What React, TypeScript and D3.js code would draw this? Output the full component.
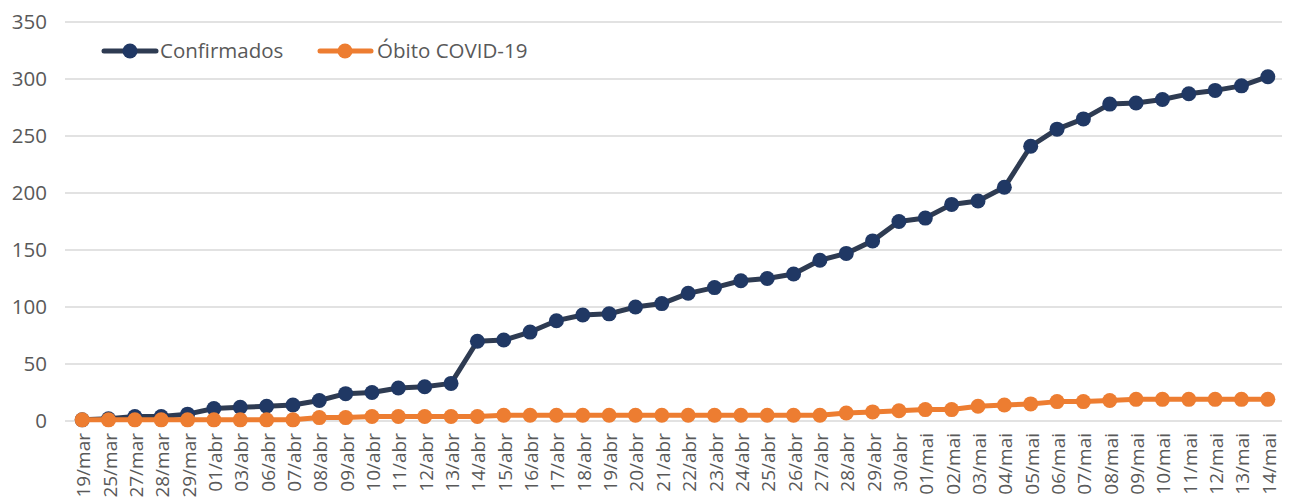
import React from "react";
import * as d3 from "d3";

const categories = [
  "19/mar","25/mar","27/mar","28/mar","29/mar",
  "01/abr","03/abr","06/abr","07/abr","08/abr","09/abr","10/abr","11/abr","12/abr","13/abr",
  "14/abr","15/abr","16/abr","17/abr","18/abr","19/abr","20/abr","21/abr","22/abr","23/abr",
  "24/abr","25/abr","26/abr","27/abr","28/abr","29/abr","30/abr",
  "01/mai","02/mai","03/mai","04/mai","05/mai","06/mai","07/mai","08/mai","09/mai","10/mai",
  "11/mai","12/mai","13/mai","14/mai"
];

const confirmados = [
  1, 2, 4, 4, 6,
  11, 12, 13, 14, 18, 24, 25, 29, 30, 33,
  70, 71, 78, 88, 93, 94, 100, 103, 112, 117,
  123, 125, 129, 141, 147, 158, 175,
  178, 190, 193, 205, 241, 256, 265, 278, 279, 282,
  287, 290, 294, 302
];

const obitos = [
  1, 1, 1, 1, 1,
  1, 1, 1, 1, 3, 3, 4, 4, 4, 4,
  4, 5, 5, 5, 5, 5, 5, 5, 5, 5,
  5, 5, 5, 5, 7, 8, 9,
  10, 10, 13, 14, 15, 17, 17, 18, 19, 19,
  19, 19, 19, 19
];

const yTicks = [0, 50, 100, 150, 200, 250, 300, 350];

const W = 1294;
const H = 497;
const FONT = "'Open Sans', sans-serif";

export default function App() {
  const x = d3.scaleBand<string>().domain(categories).range([69, 1281]);
  const y = d3.scaleLinear().domain([0, 350]).range([421, 22]);
  const cx = (c: string) => (x(c) as number) + x.bandwidth() / 2;
  const line = d3
    .line<number>()
    .x((_, i) => cx(categories[i]))
    .y((v) => y(v));

  const series = [
    { name: "Confirmados", values: confirmados, line: "#2E3B52", marker: "#203864" },
    { name: "Óbito COVID-19", values: obitos, line: "#ED7D31", marker: "#ED7D31" },
  ];

  return (
    <svg
      width={W}
      height={H}
      style={{ position: "absolute", left: 0, top: 0, background: "#fff" }}
      fontFamily={FONT}
    >
      {yTicks.map((t) => (
        <g key={t}>
          <line x1={65} x2={1282} y1={y(t)} y2={y(t)} stroke="#D9D9D9" strokeWidth={1.5} />
          <text x={47} y={y(t)} dy="0.36em" textAnchor="end" fontSize={20.5} fill="#595959">
            {t}
          </text>
        </g>
      ))}
      {categories.map((c) => (
        <text
          key={c}
          transform={`translate(${cx(c) + 8},433) rotate(-90)`}
          textAnchor="end"
          fontSize={19}
          fill="#595959"
        >
          {c}
        </text>
      ))}
      {series.map((s) => (
        <g key={s.name}>
          <path d={line(s.values) || ""} fill="none" stroke={s.line} strokeWidth={5} strokeLinejoin="round" />
          {s.values.map((v, i) => (
            <circle key={i} cx={cx(categories[i])} cy={y(v)} r={7.5} fill={s.marker} />
          ))}
        </g>
      ))}
      <g>
        <line x1={104} x2={156} y1={51} y2={51} stroke="#2E3B52" strokeWidth={5} strokeLinecap="round" />
        <circle cx={130} cy={51} r={7.5} fill="#203864" />
        <text x={160} y={51} dy="0.36em" fontSize={20.5} fill="#595959">Confirmados</text>
        <line x1={320} x2={371} y1={51} y2={51} stroke="#ED7D31" strokeWidth={5} strokeLinecap="round" />
        <circle cx={345} cy={51} r={7.5} fill="#ED7D31" />
        <text x={377} y={51} dy="0.36em" fontSize={20.5} fill="#595959">Óbito COVID-19</text>
      </g>
    </svg>
  );
}
